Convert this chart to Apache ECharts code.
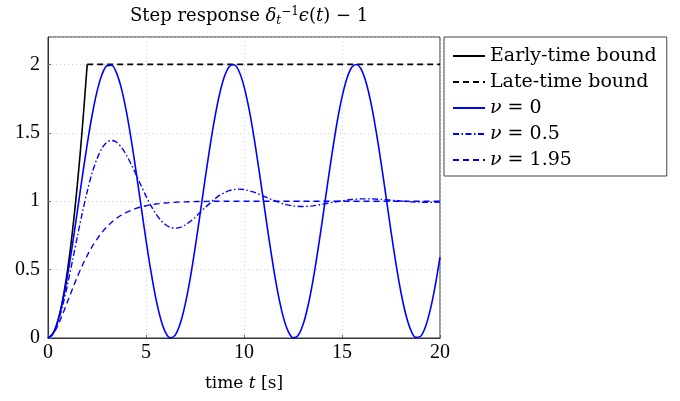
<!DOCTYPE html>
<html>
<head>
<meta charset="utf-8">
<script src="https://cdn.jsdelivr.net/npm/echarts@6/dist/echarts.min.js"></script>
<style>
	html, body { margin: 0; padding: 0; background: #fff; }
	#main { width: 680px; height: 401px; }
</style>
</head>
<body>
<div id="main"></div>
<script>
// time grids: quarter seconds over the whole range, and quarter seconds up to 10 s then half seconds
var tFine = [];
for (var i = 0; i <= 80; i++) tFine.push(i * 0.25);
var tMix = [];
for (var i = 0; i <= 40; i++) tMix.push(i * 0.25);
for (var i = 21; i <= 40; i++) tMix.push(i * 0.5);

var tEarly = [0, 0.25, 0.5, 0.75, 1, 1.25, 1.5, 1.75, 2];
var earlyBound = [0, 0.031, 0.125, 0.281, 0.5, 0.781, 1.125, 1.531, 2];
var tLate = [2, 20];
var lateBound = [2, 2];

// nu = 0, read every 0.25 s
var nu0 = [0, 0.031, 0.122, 0.268, 0.460, 0.685, 0.929, 1.178, 1.416, 1.628,
	1.801, 1.924, 1.990, 1.994, 1.936, 1.821, 1.654, 1.446, 1.211, 0.962,
	0.716, 0.488, 0.291, 0.139, 0.040, 0.001, 0.023, 0.107, 0.246, 0.431,
	0.653, 0.896, 1.146, 1.386, 1.602, 1.780, 1.911, 1.985, 1.997, 1.948,
	1.839, 1.678, 1.476, 1.243, 0.996, 0.748, 0.517, 0.315, 0.156, 0.050,
	0.002, 0.017, 0.093, 0.225, 0.405, 0.622, 0.863, 1.113, 1.355, 1.577,
	1.760, 1.897, 1.979, 1.999, 1.958, 1.857, 1.702, 1.503, 1.275, 1.029,
	0.780, 0.546, 0.340, 0.175, 0.061, 0.005, 0.011, 0.079, 0.204, 0.378,
	0.592];

// nu = 0.5 and nu = 1.95, read on tMix
var nu05 = [0, 0.030, 0.113, 0.238, 0.393, 0.566, 0.743, 0.914, 1.071, 1.206,
	1.310, 1.386, 1.431, 1.444, 1.431, 1.393, 1.337, 1.268, 1.192, 1.113,
	1.037, 0.967, 0.908, 0.861, 0.828, 0.808, 0.803, 0.809, 0.826, 0.851,
	0.881, 0.916, 0.951, 0.984, 1.015, 1.042, 1.062, 1.077, 1.085, 1.088,
	1.085,
	1.066, 1.037, 1.007, 0.981, 0.966, 0.961, 0.966, 0.977, 0.991, 1.003,
	1.012, 1.017, 1.017, 1.013, 1.007, 1.001, 0.996, 0.993, 0.992, 0.993];
var nu195 = [0, 0.027, 0.091, 0.175, 0.267, 0.360, 0.448, 0.530, 0.603, 0.668,
	0.723, 0.771, 0.812, 0.846, 0.875, 0.899, 0.918, 0.934, 0.948, 0.958,
	0.967, 0.973, 0.979, 0.983, 0.987, 0.990, 0.992, 0.994, 0.995, 0.996,
	0.997, 0.998, 0.998, 0.999, 0.999, 0.999, 0.999, 1, 1, 1,
	1,
	1, 1, 1, 1, 1, 1, 1, 1, 1, 1,
	1, 1, 1, 1, 1, 1, 1, 1, 1, 1];

var seriesNames = ['Early-time bound', 'Late-time bound', 'ν = 0', 'ν = 0.5', 'ν = 1.95'];

function zip(xs, ys) {
	var out = [];
	for (var i = 0; i < ys.length; i++) out.push([xs[i], ys[i]]);
	return out;
}

var serif = 'Liberation Serif';
var wide = 'DejaVu Serif';
var blue = '#0000ff';
var frame = '#333';

var myChart = echarts.init(document.getElementById('main'));
var option = {
	animation: false,
	title: {
		text: 'Step response {i|δ}{sub|t}{sup|−1}{i|ϵ}({i|t}) − 1',
		left: 125,
		top: 1,
		textStyle: {
			fontFamily: wide,
			fontSize: 18,
			fontWeight: 'normal',
			color: '#000',
			rich: {
				i: { fontFamily: wide, fontSize: 18, fontStyle: 'italic', color: '#000' },
				sub: { fontFamily: wide, fontSize: 12, fontStyle: 'italic', color: '#000', padding: [9, 0, 0, 0] },
				sup: { fontFamily: wide, fontSize: 12, color: '#000', padding: [0, 0, 9, 0] }
			}
		}
	},
	legend: {
		orient: 'vertical',
		left: 444,
		top: 37,
		padding: [9, 10, 6, 8],
		borderColor: '#444',
		borderWidth: 1,
		itemWidth: 32,
		itemHeight: 14,
		itemGap: 6,
		data: seriesNames,
		itemStyle: { opacity: 0 },
		textStyle: {
			fontFamily: wide,
			fontSize: 19,
			lineHeight: 20,
			color: '#000',
			rich: {
				i: { fontFamily: wide, fontSize: 19, fontStyle: 'italic', color: '#000' }
			}
		},
		formatter: function(name) {
			if (name.charAt(0) === 'ν') return '{i|ν}' + name.slice(1);
			return name;
		}
	},
	grid: {
		left: 48,
		right: 240,
		top: 37,
		bottom: 63,
		show: true,
		borderColor: frame,
		borderWidth: 1
	},
	xAxis: {
		type: 'value',
		min: 0,
		max: 20,
		interval: 5,
		name: 'time {i|t} [s]',
		nameLocation: 'middle',
		nameGap: 37,
		nameTextStyle: {
			fontFamily: wide,
			fontSize: 17,
			color: '#000',
			rich: {
				i: { fontFamily: wide, fontSize: 17, fontStyle: 'italic', color: '#000' }
			}
		},
		axisLine: { lineStyle: { color: frame } },
		axisTick: { inside: true, length: 3, lineStyle: { color: '#666' } },
		axisLabel: { fontFamily: serif, fontSize: 20, color: '#000', margin: 5 },
		splitLine: { show: true, lineStyle: { color: '#ccc', type: [1, 3] } }
	},
	yAxis: {
		type: 'value',
		min: 0,
		max: 2.2,
		interval: 0.5,
		axisLine: { show: true, lineStyle: { color: frame } },
		axisTick: { show: true, inside: true, length: 3, lineStyle: { color: '#666' } },
		axisLabel: { fontFamily: serif, fontSize: 20, color: '#000', margin: 8, showMaxLabel: false },
		splitLine: { show: true, lineStyle: { color: '#ccc', type: [1, 3] } }
	},
	series: [{
		name: seriesNames[0],
		type: 'line',
		symbol: 'none',
		smooth: 0.3,
		data: zip(tEarly, earlyBound),
		lineStyle: { color: '#000', width: 1.6 },
		itemStyle: { color: '#000' }
	}, {
		name: seriesNames[1],
		type: 'line',
		symbol: 'none',
		data: zip(tLate, lateBound),
		lineStyle: { color: '#000', width: 1.6, type: [6, 4] },
		itemStyle: { color: '#000' }
	}, {
		name: seriesNames[2],
		type: 'line',
		symbol: 'none',
		smooth: 0.3,
		data: zip(tFine, nu0),
		lineStyle: { color: blue, width: 1.6 },
		itemStyle: { color: blue }
	}, {
		name: seriesNames[3],
		type: 'line',
		symbol: 'none',
		smooth: 0.3,
		data: zip(tMix, nu05),
		lineStyle: { color: blue, width: 1.4, type: [6, 2.5, 1.5, 2.5] },
		itemStyle: { color: blue }
	}, {
		name: seriesNames[4],
		type: 'line',
		symbol: 'none',
		smooth: 0.3,
		data: zip(tMix, nu195),
		lineStyle: { color: blue, width: 1.4, type: [6, 4] },
		itemStyle: { color: blue }
	}]
};
myChart.setOption(option);
</script>
</body>
</html>
